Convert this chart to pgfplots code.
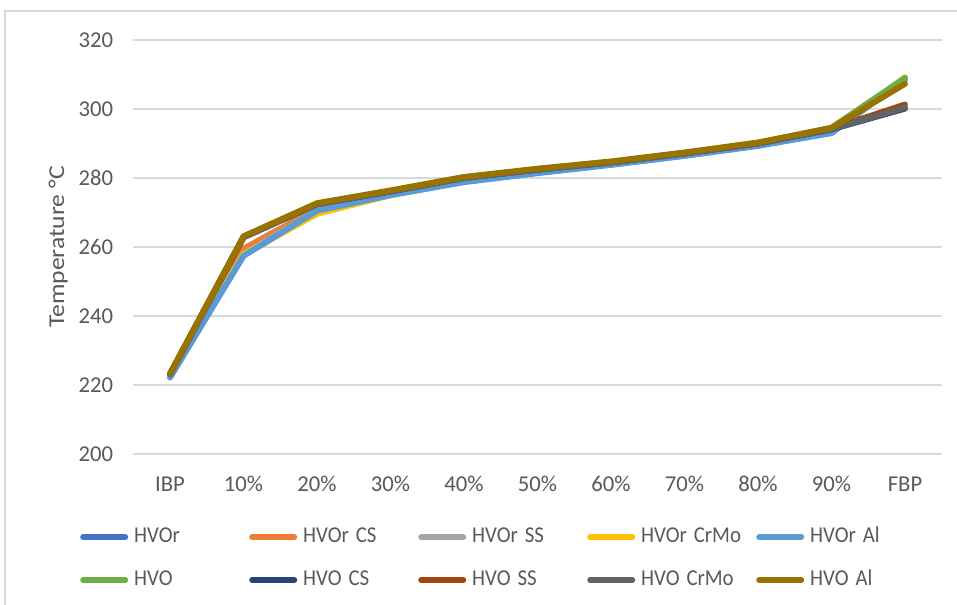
\documentclass[border=0pt]{standalone}
\usepackage{graphicx}
\usepackage{pgfplots}
\pgfplotsset{compat=1.18}
\usepackage{fontspec}
\setmainfont{Carlito}
\definecolor{cA}{HTML}{4472C4}
\definecolor{cB}{HTML}{ED7D31}
\definecolor{cC}{HTML}{A5A5A5}
\definecolor{cD}{HTML}{FFC000}
\definecolor{cE}{HTML}{5B9BD5}
\definecolor{cF}{HTML}{70AD47}
\definecolor{cG}{HTML}{264478}
\definecolor{cH}{HTML}{9E480E}
\definecolor{cI}{HTML}{636363}
\definecolor{cJ}{HTML}{997300}
\definecolor{txt}{HTML}{595959}
\definecolor{grd}{HTML}{D9D9D9}
\newcommand{\legtxt}[1]{\scalebox{0.92}[1]{#1}}
\begin{document}
\begin{tikzpicture}
\useasboundingbox (0,0) rectangle (717.75pt,453pt);
\fill[white] (0,0) rectangle (717.75pt,453pt);
\draw[grd, line width=1pt] (3.75pt,-5pt) -- (3.75pt,444.75pt) -- (730pt,444.75pt);
\begin{axis}[
  at={(99.94pt,112.5pt)}, anchor=south west,
  scale only axis, width=606.375pt, height=310.5pt,
  xmin=-0.5, xmax=10.5, ymin=200, ymax=320,
  xtick={0,...,10},
  xticklabels={IBP,10\%,20\%,30\%,40\%,50\%,60\%,70\%,80\%,90\%,FBP},
  ytick={200,220,...,320},
  ymajorgrids, grid style={grd, line width=0.9pt},
  axis line style={draw=none},
  major tick length=0pt,
  font=\fontsize{17pt}{20pt}\selectfont,
  tick label style={text=txt},
  /pgf/number format/assume math mode=true,
  yticklabel style={anchor=east, xshift=-11.5pt},
  xticklabel style={anchor=base, yshift=-28pt},
  every axis y label/.style={at={(axis description cs:-0.0928,0.5)}, rotate=90, anchor=center, text=txt},
  ylabel={\scalebox{1.13}[1]{Temperature °C}},
  every axis plot/.append style={line width=4.4pt, line join=round, line cap=round},
  legend columns=5,
  legend style={at={(axis description cs:-0.0659,-0.178)}, anchor=north west, draw=none, fill=none, inner sep=0pt,
    nodes={inner sep=0pt, text=txt, text height=11pt, text depth=3pt},
    row sep=18pt,
    /tikz/every odd column/.append style={column sep=4.5pt},
    /tikz/every even column/.append style={text width=86.25pt, align=left}},
  legend cell align=left,
  legend image code/.code={\draw[#1, line width=4.5pt, line cap=round] (0pt,0pt) -- (31.5pt,0pt);},
]
\addplot[cA] coordinates {(0,222.2) (1,257.6) (2,270.8) (3,275.2) (4,278.9) (5,281.5) (6,283.9) (7,286.5) (8,289.4) (9,293.2) (10,308.6)};
\addlegendentry{\legtxt{HVOr}}
\addplot[cB] coordinates {(0,222.4) (1,259.5) (2,271.2) (3,275.5) (4,279.2) (5,281.8) (6,284.1) (7,286.7) (8,289.6) (9,293.5) (10,308.7)};
\addlegendentry{\legtxt{HVOr CS}}
\addplot[cC] coordinates {(0,222.3) (1,258.0) (2,270.6) (3,275.3) (4,279.0) (5,281.6) (6,284.0) (7,286.6) (8,289.5) (9,293.4) (10,308.7)};
\addlegendentry{\legtxt{HVOr SS}}
\addplot[cD] coordinates {(0,222.3) (1,257.8) (2,269.6) (3,275.0) (4,279.0) (5,281.6) (6,284.0) (7,286.6) (8,289.5) (9,293.5) (10,309.2)};
\addlegendentry{\legtxt{HVOr CrMo}}
\addplot[cE] coordinates {(0,222.2) (1,257.4) (2,270.5) (3,275.0) (4,278.8) (5,281.4) (6,283.8) (7,286.4) (8,289.3) (9,293.0) (10,308.5)};
\addlegendentry{\legtxt{HVOr Al}}
\addplot[cF] coordinates {(0,223.2) (1,263.0) (2,272.6) (3,276.3) (4,280.2) (5,282.6) (6,284.7) (7,287.3) (8,290.2) (9,294.6) (10,309.0)};
\addlegendentry{\legtxt{HVO}}
\addplot[cG] coordinates {(0,223.1) (1,262.8) (2,272.4) (3,276.1) (4,280.0) (5,282.4) (6,284.5) (7,287.1) (8,290.0) (9,294.1) (10,300.1)};
\addlegendentry{\legtxt{HVO CS}}
\addplot[cH] coordinates {(0,223.2) (1,262.9) (2,272.5) (3,276.2) (4,280.1) (5,282.5) (6,284.6) (7,287.2) (8,290.1) (9,294.3) (10,301.3)};
\addlegendentry{\legtxt{HVO SS}}
\addplot[cI] coordinates {(0,223.1) (1,262.8) (2,272.4) (3,276.1) (4,280.0) (5,282.4) (6,284.5) (7,287.1) (8,290.0) (9,294.2) (10,300.4)};
\addlegendentry{\legtxt{HVO CrMo}}
\addplot[cJ] coordinates {(0,223.3) (1,263.1) (2,272.7) (3,276.4) (4,280.3) (5,282.7) (6,284.8) (7,287.4) (8,290.3) (9,294.5) (10,307.3)};
\addlegendentry{\legtxt{HVO Al}}
\end{axis}
\end{tikzpicture}
\end{document}
